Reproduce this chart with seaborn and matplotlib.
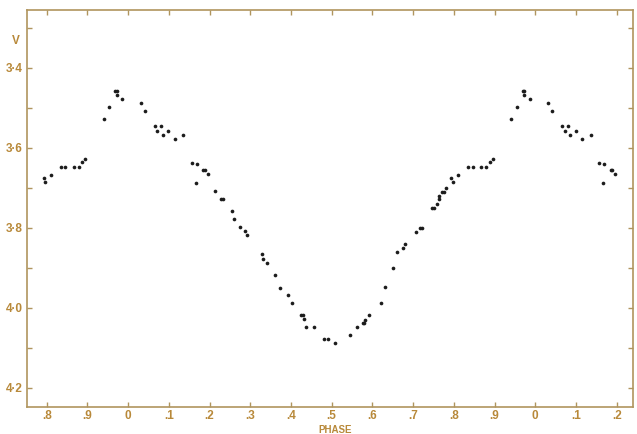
import numpy as np
import pandas as pd
import matplotlib
matplotlib.use("Agg")
import matplotlib.pyplot as plt
import seaborn as sns

# ---- data: one cycle of the light curve (phase mod 1, V magnitude) ----
phase = [0.794, 0.797, 0.811, 0.835, 0.846, 0.867, 0.879, 0.888, 0.895,
         0.940, 0.954, 0.969, 0.973, 0.972, 0.986,
         0.032, 0.041, 0.066, 0.081, 0.072, 0.086, 0.099, 0.114, 0.136,
         0.157, 0.169, 0.167, 0.185, 0.189, 0.196, 0.213, 0.228, 0.233,
         0.256, 0.261, 0.275, 0.286, 0.293, 0.330, 0.332, 0.340, 0.362,
         0.374, 0.393, 0.403, 0.425, 0.429, 0.431, 0.437, 0.457, 0.481,
         0.492, 0.507, 0.544, 0.562, 0.576, 0.580, 0.582, 0.591, 0.621,
         0.631, 0.650, 0.661, 0.674, 0.681, 0.706, 0.716, 0.722, 0.747,
         0.752, 0.759, 0.764, 0.764, 0.772, 0.776, 0.780]
vmag = [3.677, 3.687, 3.668, 3.648, 3.648, 3.648, 3.648, 3.637, 3.628,
        3.529, 3.498, 3.458, 3.458, 3.468, 3.478,
        3.488, 3.508, 3.546, 3.546, 3.559, 3.568, 3.558, 3.579, 3.568,
        3.638, 3.640, 3.688, 3.657, 3.657, 3.667, 3.709, 3.728, 3.729,
        3.758, 3.778, 3.798, 3.808, 3.818, 3.867, 3.879, 3.888, 3.918,
        3.950, 3.969, 3.988, 4.017, 4.018, 4.028, 4.048, 4.049, 4.077,
        4.077, 4.087, 4.067, 4.049, 4.039, 4.039, 4.030, 4.019, 3.988,
        3.949, 3.900, 3.860, 3.850, 3.840, 3.810, 3.800, 3.800, 3.752,
        3.752, 3.740, 3.729, 3.721, 3.711, 3.711, 3.700]

x_ticks = [0.8, 0.9, 1.0, 1.1, 1.2, 1.3, 1.4, 1.5, 1.6, 1.7, 1.8, 1.9, 2.0, 2.1, 2.2]
x_labels = [".8", ".9", "0", ".1", ".2", ".3", ".4", ".5", ".6", ".7", ".8", ".9", "0", ".1", ".2"]
y_ticks = [3.4, 3.6, 3.8, 4.0, 4.2]
y_labels = ["3·4", "3·6", "3·8", "4·0", "4·2"]
y_minor = [3.3, 3.5, 3.7, 3.9, 4.1]

# fold: show each phase at p, p+1, p+2 within displayed window
rows = []
for p, v in zip(phase, vmag):
    for k in (0, 1, 2):
        pos = p + k
        if 0.79 <= pos <= 2.2:
            rows.append({"pos": pos, "V": v})
df = pd.DataFrame(rows)

sns.set_theme(style="white")
plt.rcParams["font.family"] = ["Liberation Sans", "DejaVu Sans"]

W, H = 637, 434
fig = plt.figure(figsize=(W / 100, H / 100), dpi=100)
ax = fig.add_axes([26.7 / W, 1 - 407 / H, (633 - 26.7) / W, (407 - 9.5) / H])

sns.scatterplot(data=df, x="pos", y="V", ax=ax, s=7, color="#1c1c1c",
                linewidth=0, legend=False)

ax.set_xlim(0.751, 2.24)
ax.set_ylim(4.248, 3.255)

spine_c = "#b0955e"
lab_c = "#b8893a"
for sp in ax.spines.values():
    sp.set_color(spine_c)
    sp.set_linewidth(1.2)

ax.set_xticks(x_ticks)
ax.set_xticklabels(x_labels)
ax.set_yticks(y_ticks)
ax.set_yticklabels(y_labels)
ax.set_yticks(y_minor, minor=True)

ax.tick_params(axis="x", which="major", direction="in", length=3.5, width=1,
               color=spine_c, top=True, bottom=True, labelsize=8.5,
               labelcolor=lab_c, pad=2.5)
ax.tick_params(axis="y", which="both", direction="in", length=3.5, width=1,
               color=spine_c, left=True, right=True, labelsize=8.5,
               labelcolor=lab_c, pad=3)
for t in ax.get_xticklabels() + ax.get_yticklabels():
    t.set_fontweight("bold")

ax.set_xlabel("")
ax.set_ylabel("")
ax.grid(False)

fig.text(16 / W, 1 - 41 / H, "V", ha="center", va="center", color=lab_c,
         fontsize=8.5, fontweight="bold")
fig.text(335 / W, 1.0 / H, "PHASE", ha="center", va="baseline", color=lab_c,
         fontsize=7, fontweight="bold")

fig.savefig("out.png", dpi=100, facecolor="white")
